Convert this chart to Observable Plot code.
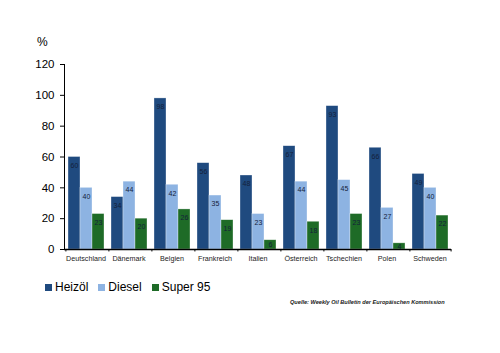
<!DOCTYPE html>
<html>
<head>
<meta charset="utf-8">
<script src="https://cdn.jsdelivr.net/npm/d3@7"></script>
<script src="https://cdn.jsdelivr.net/npm/@observablehq/plot@0.6"></script>
<style>
  html, body { margin: 0; padding: 0; background: #fff; }
  #wrap { position: relative; width: 500px; height: 353px; font-family: "Liberation Sans", Arial, sans-serif; }
  #wrap svg { position: absolute; left: 0; top: 0; }
  .unit { position: absolute; left: 37px; top: 35px; font-size: 12px; color: #000; }
  .legend { position: absolute; left: 45px; top: 280px; display: flex; align-items: center; font-size: 12px; color: #000; }
  .legend .item { display: flex; align-items: center; margin-right: 10px; }
  .legend .sw { width: 7px; height: 7px; margin-right: 3px; }
  .source { position: absolute; left: 290px; top: 299px; font-size: 5.6px; font-style: italic; font-weight: bold; color: #222; white-space: nowrap; }
</style>
</head>
<body>
<div id="wrap">
  <div class="unit">%</div>
  <div class="legend" id="legend"></div>
  <div class="source">Quelle: Weekly Oil Bulletin der Europäischen Kommission</div>
</div>
<script>
const countries = ["Deutschland", "Dänemark", "Belgien", "Frankreich", "Italien", "Österreich", "Tschechien", "Polen", "Schweden"];
const fuels = ["Heizöl", "Diesel", "Super 95"];
const heizoel = [60, 34, 98, 56, 48, 67, 93, 66, 49];
const diesel  = [40, 44, 42, 35, 23, 44, 45, 27, 40];
const super95 = [23, 20, 26, 19, 6, 18, 23, 4, 22];
const yTicks = [0, 20, 40, 60, 80, 100, 120];
const colors = ["#1F4A7F", "#8DB3E2", "#1E6B27"];

const series = [heizoel, diesel, super95];
const rows = [];
countries.forEach((c, i) => fuels.forEach((f, j) => rows.push({country: c, fuel: f, value: series[j][i]})));

const plot = Plot.plot({
  width: 500,
  height: 353,
  marginTop: 64,
  marginBottom: 104,
  marginLeft: 62,
  marginRight: 47,
  style: {fontFamily: "'Liberation Sans', Arial, sans-serif", background: "transparent"},
  fx: {domain: countries, padding: 0},
  x: {domain: fuels, paddingInner: 0, paddingOuter: 0.16, axis: null},
  y: {domain: [0, 120]},
  color: {domain: fuels, range: colors},
  marks: [
    Plot.barY(rows, {fx: "country", x: "fuel", y: "value", fill: "fuel", stroke: "rgba(255,255,255,0.55)", strokeWidth: 0.6, inset: 0}),
    Plot.text(rows.filter(d => d.value >= 10), {fx: "country", x: "fuel", y: "value", text: "value", dy: 8.5, fontSize: 7, fill: "#14213a"}),
    Plot.text(rows.filter(d => d.value < 10), {fx: "country", x: "fuel", y: d => d.value / 2, text: "value", fontSize: 7, fill: "#14213a"}),
    Plot.ruleY([0], {stroke: "#000", strokeWidth: 1.5}),
    Plot.ruleX(countries, {fx: d => d, x: () => fuels[0], y1: 0, y2: -1.6, dx: -8.6, stroke: "#000"}),
    Plot.ruleX([countries[countries.length - 1]], {fx: d => d, x: () => fuels[2], y1: 0, y2: -1.6, dx: 8.6, stroke: "#000"}),
    Plot.frame({anchor: "left", fx: () => countries[0], stroke: "#000"}),
    Plot.axisY({ticks: yTicks, tickSize: 4, tickPadding: 6, fontSize: 11.5, label: null, fill: "#000"}),
    Plot.axisFx({anchor: "bottom", tickSize: 0, tickPadding: 6, fontSize: 7.2, label: null, fill: "#222"})
  ]
});
document.getElementById("wrap").appendChild(plot);

const legend = document.getElementById("legend");
fuels.forEach((f, i) => {
  const item = document.createElement("div");
  item.className = "item";
  const sw = document.createElement("div");
  sw.className = "sw";
  sw.style.background = colors[i];
  const t = document.createElement("span");
  t.textContent = f;
  item.appendChild(sw);
  item.appendChild(t);
  legend.appendChild(item);
});
</script>
</body>
</html>
